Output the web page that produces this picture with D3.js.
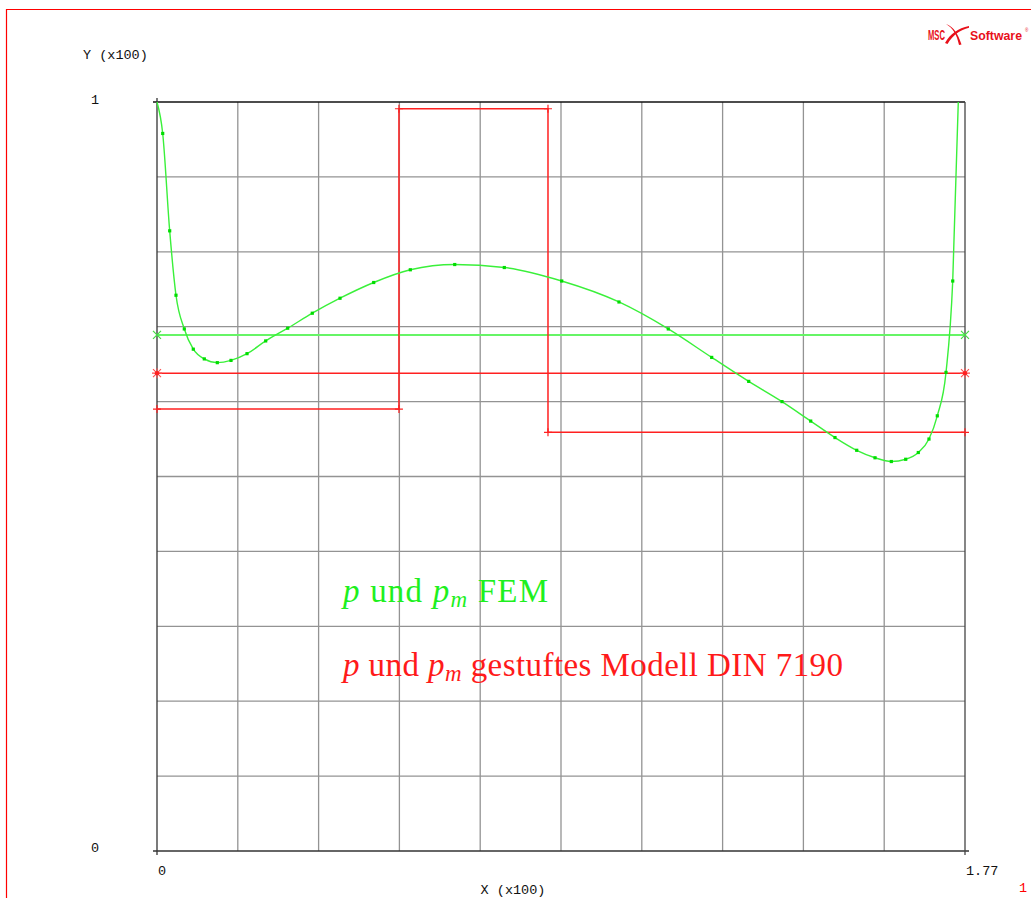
<!DOCTYPE html>
<html>
<head>
<meta charset="utf-8">
<script src="https://cdn.jsdelivr.net/npm/d3@7"></script>
<style>
  html, body { margin: 0; padding: 0; background: #fff; }
  svg { display: block; }
</style>
</head>
<body>
<svg id="chart" width="1031" height="898"></svg>
<script>
// ---------- data ----------
const xDomain = [0, 1.77];
const yDomain = [0, 1];
const xGridCount = 10;
const yGridCount = 10;
const xTickLabels = ["0", "1.77"];
const yTickLabels = ["0", "1"];
const xAxisTitle = "X (x100)";
const yAxisTitle = "Y (x100)";

// FEM pressure distribution p (green curve)
const femX = [0, 0.0125, 0.0278, 0.0416, 0.0598, 0.0795, 0.1036, 0.1321, 0.1621, 0.1972,
  0.2381, 0.2863, 0.3402, 0.4009, 0.4747, 0.5549, 0.6522, 0.7608, 0.8865, 1.0120,
  1.1200, 1.2151, 1.2962, 1.3691, 1.4320, 1.4852, 1.5328, 1.5729, 1.6086, 1.6401,
  1.6677, 1.6911, 1.7093, 1.7284, 1.7431, 1.7553];
const femY = [1.0, 0.958, 0.828, 0.742, 0.697, 0.670, 0.657, 0.652, 0.655, 0.664,
  0.681, 0.698, 0.718, 0.738, 0.759, 0.776, 0.783, 0.779, 0.761, 0.733,
  0.697, 0.659, 0.627, 0.600, 0.574, 0.552, 0.535, 0.525, 0.520, 0.523,
  0.532, 0.550, 0.581, 0.639, 0.761, 1.0];
const femMean = 0.689;

// stepped model DIN 7190 (red)
const dinBreaks = [0, 0.530, 0.8565, 1.77];
const dinLevels = [0.590, 0.991, 0.559];
const dinMean = 0.638;

const legendGreen = ["p", " und ", "p", "m", " FEM"];
const legendRed = ["p", " und ", "p", "m", " gestuftes Modell DIN 7190"];
const pageNumber = "1";

// ---------- drawing ----------
const svg = d3.select("#chart");
const W = 1031, H = 898;
const plot = { left: 157, right: 965, top: 102, bottom: 851 };

const x = d3.scaleLinear().domain(xDomain).range([plot.left, plot.right]);
const y = d3.scaleLinear().domain(yDomain).range([plot.bottom, plot.top]);

const GREEN_LIGHT = "#66f566";
const RED = "#ff2020";
const mono = "'Liberation Mono', 'DejaVu Sans Mono', monospace";

// red page border
svg.append("path")
  .attr("d", `M6.5,${H} L6.5,9.5 L${W},9.5`)
  .attr("fill", "none").attr("stroke", "#ff0000").attr("stroke-width", 1.2);

// grid
const xGrid = d3.range(xGridCount + 1).map(i => xDomain[0] + i * (xDomain[1] - xDomain[0]) / xGridCount);
const yGrid = d3.range(yGridCount + 1).map(i => yDomain[0] + i * (yDomain[1] - yDomain[0]) / yGridCount);

const grid = svg.append("g");
grid.selectAll("line.v").data(xGrid.slice(1, -1)).join("line")
  .attr("x1", d => x(d)).attr("x2", d => x(d))
  .attr("y1", y(yDomain[0])).attr("y2", y(yDomain[1]))
  .attr("stroke", "#939393").attr("stroke-width", 1.3);
grid.selectAll("line.h").data(yGrid.slice(1, -1)).join("line")
  .attr("x1", x(xDomain[0])).attr("x2", x(xDomain[1]))
  .attr("y1", d => y(d)).attr("y2", d => y(d))
  .attr("stroke", "#939393").attr("stroke-width", 1.3);

// frame with small overshoot at corners
const ext = 4;
const frame = svg.append("g").attr("fill", "none");
frame.append("line") // top
  .attr("x1", x(xDomain[0]) - ext).attr("x2", x(xDomain[1]))
  .attr("y1", y(yDomain[1])).attr("y2", y(yDomain[1]))
  .attr("stroke", "#111").attr("stroke-width", 1.3);
frame.append("line") // left
  .attr("x1", x(xDomain[0])).attr("x2", x(xDomain[0]))
  .attr("y1", y(yDomain[1]) - ext).attr("y2", y(yDomain[0]) + ext)
  .attr("stroke", "#333").attr("stroke-width", 1.3);
frame.append("line") // bottom
  .attr("x1", x(xDomain[0]) - ext).attr("x2", x(xDomain[1]) + ext)
  .attr("y1", y(yDomain[0])).attr("y2", y(yDomain[0]))
  .attr("stroke", "#333").attr("stroke-width", 1.3);
frame.append("line") // right
  .attr("x1", x(xDomain[1])).attr("x2", x(xDomain[1]))
  .attr("y1", y(yDomain[1])).attr("y2", y(yDomain[0]) + ext)
  .attr("stroke", "#444").attr("stroke-width", 1.3);

// axis labels
const lab = svg.append("g").attr("font-family", mono).attr("font-size", 13.5).attr("fill", "#111");
lab.append("text").attr("x", 83).attr("y", 59).text(yAxisTitle);
lab.append("text").attr("x", 95).attr("y", y(yDomain[1]) + 2).attr("text-anchor", "middle").text(yTickLabels[1]);
lab.append("text").attr("x", 95).attr("y", y(yDomain[0]) + 1).attr("text-anchor", "middle").text(yTickLabels[0]);
lab.append("text").attr("x", x(xDomain[0]) + 5).attr("y", 875).attr("text-anchor", "middle").text(xTickLabels[0]);
lab.append("text").attr("x", x(xDomain[1]) + 1).attr("y", 875).attr("text-anchor", "start").text(xTickLabels[1]);
lab.append("text").attr("x", 513).attr("y", 894).attr("text-anchor", "middle").text(xAxisTitle);
svg.append("text").attr("x", 1023).attr("y", 892).attr("font-family", mono).attr("font-size", 13.5)
  .attr("fill", "#ff0000").attr("text-anchor", "middle").text(pageNumber);

// mean lines
function meanLine(val, color, width) {
  svg.append("line")
    .attr("x1", x(xDomain[0])).attr("x2", x(xDomain[1]))
    .attr("y1", y(val)).attr("y2", y(val))
    .attr("stroke", color).attr("stroke-width", width);
}
meanLine(femMean, GREEN_LIGHT, 2);
meanLine(dinMean, RED, 1.5);

// X markers for FEM mean
[xDomain[0], xDomain[1]].forEach(xv => {
  const cx = x(xv), cy = y(femMean), s = 4;
  svg.append("path")
    .attr("d", `M${cx - s},${cy - s}L${cx + s},${cy + s}M${cx - s},${cy + s}L${cx + s},${cy - s}`)
    .attr("stroke", "#44dd44").attr("stroke-width", 1.2);
});
// asterisk markers for DIN mean
[xDomain[0], xDomain[1]].forEach(xv => {
  const cx = x(xv), cy = y(dinMean), s = 4;
  svg.append("path")
    .attr("d", `M${cx - s},${cy - s}L${cx + s},${cy + s}M${cx - s},${cy + s}L${cx + s},${cy - s}M${cx - s - 1},${cy}L${cx + s + 1},${cy}M${cx},${cy - s - 1}L${cx},${cy + s + 1}`)
    .attr("stroke", "#ff5050").attr("stroke-width", 1.1);
  svg.append("circle").attr("cx", cx).attr("cy", cy).attr("r", 2.2).attr("fill", RED);
});

// DIN stepped model
const dinPts = [];
dinLevels.forEach((lv, i) => {
  dinPts.push([dinBreaks[i], lv]);
  dinPts.push([dinBreaks[i + 1], lv]);
});
svg.append("path")
  .attr("d", d3.line().x(d => x(d[0])).y(d => y(d[1]))(dinPts))
  .attr("fill", "none").attr("stroke", RED).attr("stroke-width", 1.5);
svg.append("g").selectAll("path").data(dinPts).join("path")
  .attr("d", d => {
    const cx = x(d[0]), cy = y(d[1]), s = 4;
    return `M${cx - s},${cy}L${cx + s},${cy}M${cx},${cy - s}L${cx},${cy + s}`;
  })
  .attr("stroke", RED).attr("stroke-width", 1.2);

// FEM curve
const femPts = femX.map((v, i) => [v, femY[i]]);
svg.append("path")
  .attr("d", d3.line().x(d => x(d[0])).y(d => y(d[1])).curve(d3.curveMonotoneX)(femPts))
  .attr("fill", "none").attr("stroke", "#3af03a").attr("stroke-width", 1.4);
svg.append("g").selectAll("rect").data(femPts.slice(1, -1)).join("rect")
  .attr("x", d => x(d[0]) - 1.6).attr("y", d => y(d[1]) - 1.6)
  .attr("width", 3.2).attr("height", 3.2).attr("fill", "#00dd00");

// legend texts
function legend(parts, color, ty, len) {
  const t = svg.append("text").attr("x", 343).attr("y", ty)
    .attr("font-family", "'Liberation Serif', 'DejaVu Serif', serif")
    .attr("font-size", 33).attr("fill", color)
    .attr("textLength", len).attr("lengthAdjust", "spacing");
  t.append("tspan").attr("font-style", "italic").text(parts[0]);
  t.append("tspan").text(parts[1]);
  t.append("tspan").attr("font-style", "italic").text(parts[2]);
  t.append("tspan").attr("font-style", "italic").attr("font-size", 23).attr("dy", 5).text(parts[3]);
  t.append("tspan").attr("dy", -5).text(parts[4]);
}
legend(legendGreen, "#1ef01e", 602, 205);
legend(legendRed, "#ff1a1a", 676, 500);

// MSC Software logo
const logo = svg.append("g").attr("fill", "#e8101a");
const logoFont = "'Liberation Sans', Arial, sans-serif";
logo.append("text").attr("x", 928).attr("y", 39.5)
  .attr("font-family", logoFont).attr("font-weight", "bold")
  .attr("font-size", 14).attr("textLength", 17).attr("lengthAdjust", "spacingAndGlyphs").text("MSC");
logo.append("path")
  .attr("d", "M946,24 C953,28 957,35 959,45 L961.5,44.5 C958,34 954,27 946,24 Z");
logo.append("path")
  .attr("d", "M945,43 C950,34 958,28 969,26 L969,27.8 C960,30 953,35 947.5,44 Z");
logo.append("text").attr("x", 970).attr("y", 39.5)
  .attr("font-family", logoFont).attr("font-weight", "bold")
  .attr("font-size", 13.5).attr("textLength", 52).attr("lengthAdjust", "spacingAndGlyphs").text("Software");
logo.append("text").attr("x", 1025).attr("y", 32)
  .attr("font-family", logoFont).attr("font-size", 4.5).text("®");
</script>
</body>
</html>
